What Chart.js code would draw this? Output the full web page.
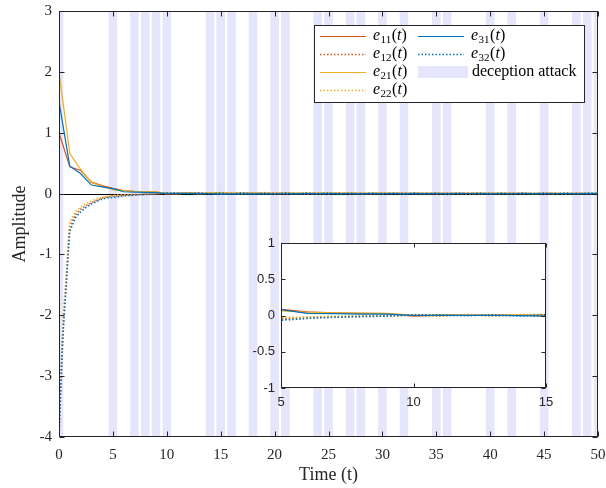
<!DOCTYPE html>
<html>
<head>
<meta charset="utf-8">
<script src="https://cdn.jsdelivr.net/npm/chart.js@4.4.1/dist/chart.umd.min.js"></script>
<style>
  html, body { margin: 0; padding: 0; background: #fff; }
  #wrap { position: relative; width: 606px; height: 488px; }
  #main { position: absolute; left: 0; top: 0; }
  #inset { position: absolute; left: 240px; top: 230px; }
</style>
</head>
<body>
<div id="wrap">
  <canvas id="main" width="606" height="488"></canvas>
  <canvas id="inset" width="320" height="180"></canvas>
</div>
<script>
// sample times of the solid curves (e_i1)
const timeSolid = [
  0, 1, 2, 3, 4, 5, 6, 7, 8, 9, 10,
  11, 12, 13, 14, 15, 16, 17, 18, 19, 20,
  21, 22, 23, 24, 25, 26, 27, 28, 29, 30,
  31, 32, 33, 34, 35, 36, 37, 38, 39, 40,
  41, 42, 43, 44, 45, 46, 47, 48, 49, 50
];
const e11 = [
  1.00, 0.44, 0.38, 0.19, 0.13, 0.085, 0.05, 0.037, 0.03, 0.027, -0.008,
  0.004, 0.006, 0.005, 0.004, 0.006, 0.003, 0.005, 0.004, 0.003, 0.005,
  0.004, 0.003, 0.005, 0.004, 0.002, 0.004, 0.003, 0.004, 0.003, 0.002,
  0.003, 0.004, 0.002, 0.003, 0.002, 0.003, 0.002, 0.003, 0.002, 0.002,
  0.003, 0.002, 0.002, 0.001, 0.002, 0.002, 0.001, 0.002, 0.001, 0.001
];
const e21 = [
  2.00, 0.66, 0.40, 0.18, 0.12, 0.065, 0.045, 0.036, 0.034, 0.03, 0.005,
  0.008, 0.010, 0.007, 0.009, 0.006, 0.008, 0.007, 0.006, 0.008, 0.005,
  0.007, 0.006, 0.005, 0.007, 0.006, 0.005, 0.006, 0.004, 0.005, 0.006,
  0.004, 0.005, 0.004, 0.003, 0.005, 0.004, 0.003, 0.004, 0.003, 0.004,
  0.003, 0.004, 0.003, 0.002, 0.003, 0.003, 0.002, 0.003, 0.002, 0.002
];
const e31 = [
  1.51, 0.45, 0.33, 0.14, 0.11, 0.08, 0.03, 0.025, 0.02, 0.018, 0.0,
  0.003, 0.002, 0.0, -0.002, -0.008, -0.006, -0.005, -0.004, -0.004, -0.003,
  -0.003, -0.002, -0.002, -0.001, -0.002, -0.001, -0.001, 0.0, -0.001, 0.0,
  0.0, -0.001, 0.0, 0.0, -0.001, 0.0, 0.0, 0.001, 0.0, 0.0,
  0.0, 0.001, 0.0, 0.0, 0.0, 0.001, 0.0, 0.0, 0.0, 0.0
];

// sample times of the dotted curves (e_i2), denser near the start
const timeDotted = [
  0, 0.05, 0.1, 0.2, 0.3, 0.4, 0.5, 0.6, 0.7, 0.8, 0.9, 1, 1.5, 2, 2.5, 3, 3.5, 4, 4.5,
  5, 6, 7, 8, 9, 10, 11, 12, 13, 14,
  15, 16, 17, 18, 19, 20, 21, 22, 23, 24,
  25, 26, 27, 28, 29, 30, 31, 32, 33, 34,
  35, 36, 37, 38, 39, 40, 41, 42, 43, 44,
  45, 46, 47, 48, 49, 50
];
const e12 = [
  -4.00, -3.70, -3.40, -2.95, -2.50, -2.15, -1.85, -1.60, -1.35, -1.05, -0.78, -0.55, -0.35, -0.26, -0.20, -0.15, -0.11, -0.075, -0.055,
  -0.045, -0.03, -0.02, -0.012, -0.006, 0.004, -0.008, 0.012, -0.006, 0.010,
  -0.012, 0.008, -0.010, 0.014, -0.006, 0.012, -0.009, 0.006, -0.012, 0.010,
  -0.008, 0.012, -0.010, 0.006, -0.012, 0.009, -0.006, 0.011, -0.009, 0.007,
  -0.011, 0.008, -0.007, 0.010, -0.009, 0.006, -0.010, 0.008, -0.006, 0.009,
  -0.008, 0.007, -0.009, 0.006, -0.007, 0.005
];
const e22 = [
  -4.00, -3.60, -3.30, -2.85, -2.40, -2.05, -1.75, -1.50, -1.25, -0.95, -0.68, -0.47, -0.30, -0.22, -0.17, -0.12, -0.09, -0.06, -0.045,
  -0.03, -0.02, -0.012, -0.006, 0.002, 0.008, -0.004, 0.014, -0.006, 0.012,
  0.016, -0.004, 0.012, -0.006, 0.018, -0.008, 0.010, -0.004, 0.014, -0.010,
  0.012, -0.006, 0.016, -0.008, 0.010, -0.005, 0.013, -0.007, 0.011, -0.004,
  0.012, -0.006, 0.010, -0.008, 0.014, -0.005, 0.011, -0.006, 0.009, -0.007,
  0.010, -0.005, 0.012, -0.006, 0.008, -0.004
];
const e32 = [
  -4.00, -3.75, -3.50, -3.05, -2.60, -2.25, -1.95, -1.70, -1.45, -1.15, -0.88, -0.62, -0.40, -0.30, -0.23, -0.17, -0.13, -0.09, -0.07,
  -0.065, -0.04, -0.025, -0.015, -0.008, 0.010, 0.006, -0.004, 0.012, -0.008,
  0.010, -0.012, 0.014, -0.006, 0.008, -0.010, 0.012, -0.008, 0.009, -0.006,
  0.011, -0.009, 0.008, -0.012, 0.010, -0.007, 0.009, -0.010, 0.012, -0.006,
  0.008, -0.011, 0.010, -0.006, 0.009, -0.012, 0.007, -0.008, 0.011, -0.006,
  0.009, -0.007, 0.010, -0.008, 0.012, 0.004
];

// instants at which a deception attack is active
const attackTimes = [0, 5, 7, 8, 9, 10, 14, 15, 16, 18, 20, 21, 24, 25, 27, 28, 30, 32, 35, 36, 40, 42, 45, 48, 49, 50];
const attackLabel = 'deception attack';
const xLabel = 'Time (t)';
const yLabel = 'Amplitude';

const SERIF = '"Liberation Serif", "Times New Roman", serif';
const SANS = '"Liberation Sans", Arial, sans-serif';
const AX = '#262626';
const BAND = 'rgb(229,229,252)';
const BAND_HALF = 0.4;
const C = { orange: '#D95319', yellow: '#EDB120', blue: '#0072BD' };
const DOTS = [1.5, 2];

const series = [
  { sub: '11', t: timeSolid,  y: e11, color: C.orange, dotted: false },
  { sub: '12', t: timeDotted, y: e12, color: C.orange, dotted: true },
  { sub: '21', t: timeSolid,  y: e21, color: C.yellow, dotted: false },
  { sub: '22', t: timeDotted, y: e22, color: C.yellow, dotted: true },
  { sub: '31', t: timeSolid,  y: e31, color: C.blue,   dotted: false },
  { sub: '32', t: timeDotted, y: e32, color: C.blue,   dotted: true }
];

function makeDatasets() {
  // chart.js paints index 0 last, so reverse to keep e32 on top like the original
  return series.map(s => ({
    label: 'e' + s.sub + '(t)',
    data: s.t.map((t, i) => ({ x: t, y: s.y[i] })),
    borderColor: s.color,
    borderWidth: s.dotted ? 1.6 : 1.2,
    borderDash: s.dotted ? DOTS : [],
    pointRadius: 0,
    fill: false,
    tension: 0
  })).reverse();
}

// v4 adds tick padding to the label overflow; drop it so layout.padding decides the box
function noOverflow(s) {
  s.paddingTop = 0; s.paddingBottom = 0; s.paddingLeft = 0; s.paddingRight = 0;
}

// shaded attack intervals + black zero line, under the curves
const bandsPlugin = {
  id: 'bands',
  beforeDatasetsDraw(chart, args, opts) {
    if (!opts.show) return;
    const { ctx, chartArea: a, scales: { x, y } } = chart;
    ctx.save();
    ctx.beginPath();
    ctx.rect(a.left, a.top, a.right - a.left, a.bottom - a.top);
    ctx.clip();
    ctx.fillStyle = BAND;
    attackTimes.forEach(t => {
      const x0 = x.getPixelForValue(t - BAND_HALF);
      const x1 = x.getPixelForValue(t + BAND_HALF);
      ctx.fillRect(x0, a.top, x1 - x0, a.bottom - a.top);
    });
    const y0 = Math.round(y.getPixelForValue(0)) + 0.5;
    ctx.beginPath();
    ctx.moveTo(a.left, y0);
    ctx.lineTo(a.right, y0);
    ctx.strokeStyle = '#000';
    ctx.lineWidth = 1;
    ctx.stroke();
    ctx.restore();
  }
};

// white plot background (inset) and matlab-style box with inward ticks
const framePlugin = {
  id: 'frame',
  beforeDraw(chart, args, opts) {
    if (!opts.fill) return;
    const { ctx, chartArea: a } = chart;
    ctx.save();
    ctx.fillStyle = '#fff';
    ctx.fillRect(a.left, a.top, a.right - a.left, a.bottom - a.top);
    ctx.restore();
  },
  afterDraw(chart, args, opts) {
    const { ctx, chartArea: a, scales: { x, y } } = chart;
    const L = opts.tick || 5;
    const l = Math.round(a.left) + 0.5, r = Math.round(a.right) - 0.5;
    const t = Math.round(a.top) + 0.5, b = Math.round(a.bottom) - 0.5;
    ctx.save();
    ctx.strokeStyle = AX;
    ctx.lineWidth = 1;
    ctx.beginPath();
    x.ticks.forEach(tk => {
      const px = Math.round(x.getPixelForValue(tk.value)) + 0.5;
      ctx.moveTo(px, b); ctx.lineTo(px, b - L);
      ctx.moveTo(px, t); ctx.lineTo(px, t + L);
    });
    y.ticks.forEach(tk => {
      const py = Math.round(y.getPixelForValue(tk.value)) + 0.5;
      ctx.moveTo(l, py); ctx.lineTo(l + L, py);
      ctx.moveTo(r, py); ctx.lineTo(r - L, py);
    });
    ctx.stroke();
    ctx.strokeRect(l, t, r - l, b - t);
    ctx.restore();
  }
};

// legend: two columns, italic e with subscript
const legendPlugin = {
  id: 'mlegend',
  afterDraw(chart, args, opts) {
    if (!opts.show) return;
    const ctx = chart.ctx;
    const bx = 314, by = 25, bw = 270, bh = 77;
    const colX = [320, 418], rowY = [36, 54, 72, 90];
    ctx.save();
    ctx.fillStyle = '#fff';
    ctx.fillRect(bx, by, bw, bh);
    ctx.strokeStyle = AX;
    ctx.lineWidth = 1;
    ctx.strokeRect(bx + 0.5, by + 0.5, bw, bh);

    const slots = [[0, 0], [0, 1], [0, 2], [0, 3], [1, 0], [1, 1]];
    series.forEach((s, i) => {
      const [c, r] = slots[i];
      const x0 = colX[c], yy = rowY[r];
      ctx.beginPath();
      ctx.setLineDash(s.dotted ? DOTS : []);
      ctx.strokeStyle = s.color;
      ctx.lineWidth = s.dotted ? 1.6 : 1.2;
      ctx.moveTo(x0, yy + 0.5);
      ctx.lineTo(x0 + 46, yy + 0.5);
      ctx.stroke();
      ctx.setLineDash([]);
      drawLabel(ctx, 'e', s.sub, x0 + 53, yy);
    });
    // attack patch
    ctx.fillStyle = BAND;
    ctx.fillRect(colX[1], rowY[2] - 6, 50, 12);
    ctx.fillStyle = '#000';
    ctx.font = '16px ' + SERIF;
    ctx.textBaseline = 'middle';
    ctx.textAlign = 'left';
    ctx.fillText(attackLabel, colX[1] + 54, rowY[2]);
    ctx.restore();
  }
};

function drawLabel(ctx, base, sub, x, y) {
  ctx.fillStyle = '#000';
  ctx.textBaseline = 'middle';
  ctx.textAlign = 'left';
  ctx.font = 'italic 16px ' + SERIF;
  ctx.fillText(base, x, y);
  x += ctx.measureText(base).width + 0.5;
  ctx.font = '11px ' + SERIF;
  ctx.fillText(sub, x, y + 4);
  x += ctx.measureText(sub).width + 0.5;
  ctx.font = '16px ' + SERIF;
  ctx.fillText('(', x, y);
  x += ctx.measureText('(').width;
  ctx.font = 'italic 16px ' + SERIF;
  ctx.fillText('t', x, y);
  x += ctx.measureText('t').width;
  ctx.font = '16px ' + SERIF;
  ctx.fillText(')', x, y);
}

Chart.register(bandsPlugin, framePlugin, legendPlugin);

new Chart(document.getElementById('main'), {
  type: 'line',
  data: { datasets: makeDatasets() },
  options: {
    responsive: false,
    animation: false,
    layout: { padding: { left: 0, right: 8, top: 11, bottom: 0 } },
    plugins: {
      legend: { display: false },
      tooltip: { enabled: false },
      bands: { show: true },
      frame: { fill: false, tick: 5 },
      mlegend: { show: true }
    },
    scales: {
      x: {
        type: 'linear', min: 0, max: 50,
        grid: { display: false, drawTicks: false },
        border: { display: false },
        ticks: { stepSize: 5, padding: 9, color: AX, maxRotation: 0, font: { family: SERIF, size: 15 } },
        title: { display: true, text: xLabel, color: AX, font: { family: SERIF, size: 18 }, padding: { top: 0, bottom: 2 } },
        afterFit: s => { s.height = 51; noOverflow(s); }
      },
      y: {
        type: 'linear', min: -4, max: 3,
        grid: { display: false, drawTicks: false },
        border: { display: false },
        ticks: { stepSize: 1, padding: 7, color: AX, font: { family: SERIF, size: 15 } },
        title: { display: true, text: yLabel, color: AX, font: { family: SERIF, size: 18 }, padding: { top: 9, bottom: 0 } },
        afterFit: s => { s.width = 59; noOverflow(s); }
      }
    }
  }
});

// zoomed view of t in [5, 15]
new Chart(document.getElementById('inset'), {
  type: 'line',
  data: { datasets: makeDatasets() },
  options: {
    responsive: false,
    animation: false,
    layout: { padding: { left: 0, right: 14, top: 13, bottom: 0 } },
    plugins: {
      legend: { display: false },
      tooltip: { enabled: false },
      bands: { show: false },
      frame: { fill: true, tick: 4 },
      mlegend: { show: false }
    },
    scales: {
      x: {
        type: 'linear', min: 5, max: 15,
        grid: { display: false, drawTicks: false },
        border: { display: false },
        ticks: { stepSize: 5, padding: 7, color: AX, maxRotation: 0, font: { family: SANS, size: 13 } },
        afterFit: s => { s.height = 22; noOverflow(s); }
      },
      y: {
        type: 'linear', min: -1, max: 1,
        grid: { display: false, drawTicks: false },
        border: { display: false },
        ticks: { stepSize: 0.5, padding: 6, color: AX, font: { family: SANS, size: 13 }, callback: v => String(+v.toFixed(2)) },
        afterFit: s => { s.width = 41; noOverflow(s); }
      }
    }
  }
});
</script>
</body>
</html>
